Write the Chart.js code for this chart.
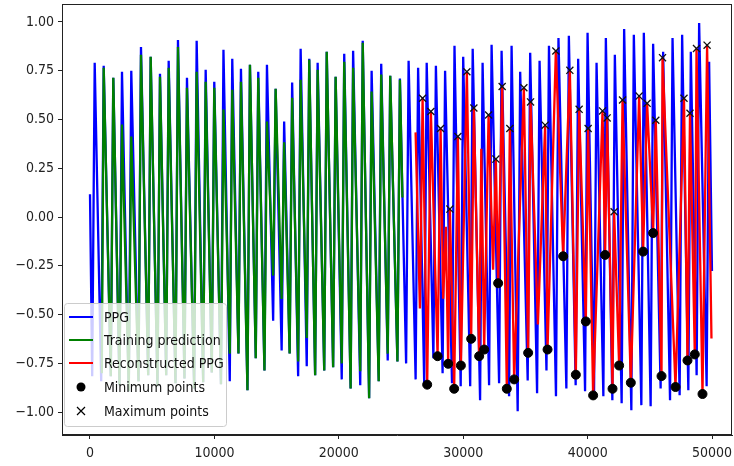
<!DOCTYPE html>
<html lang="en">
<head>
    <meta charset="UTF-8">
    <title>PPG reconstruction</title>
    <script src="https://cdn.jsdelivr.net/npm/chart.js"></script>
    <style>
        body { margin: 0; background: #fff; }
        .wrap { width: 734px; height: 466px; position: relative; }
    </style>
</head>
<body>
<div class="wrap"><canvas id="graphique"></canvas></div>
<script>
// PPG signal: alternating troughs / peaks
const ppgTime = [0, 177, 378, 900, 1101, 1672, 1872, 2371, 2571, 3118, 3318, 3898, 4098, 4677, 4877,
    5425, 5625, 6124, 6324, 6871, 7071, 7594, 7794, 8373, 8573, 9097, 9297, 9788, 9988,
    10527, 10727, 11234, 11434, 11933, 12133, 12656, 12856, 13323, 13523, 14022, 14222,
    14721, 14921, 15404, 15604, 16047, 16247, 16730, 16930, 17421, 17621, 18096, 18296,
    18827, 19027, 19542, 19742, 20233, 20433, 20948, 21148, 21720, 21920, 22435, 22635,
    23206, 23406, 23930, 24130, 24709, 24909, 25408, 25608, 26172, 26372, 26862, 27062,
    27601, 27801, 28340, 28540, 29096, 29296, 29795, 29995, 30558, 30758, 31354, 31554,
    32077, 32277, 32881, 33081, 33684, 33884, 34375, 34575, 35179, 35379, 35934, 36134,
    36689, 36889, 37453, 37653, 38288, 38488, 39035, 39235, 39791, 39991, 40514, 40714,
    41261, 41461, 41984, 42184, 42731, 42931, 43510, 43710, 44314, 44514, 45061, 45261,
    45865, 46065, 46620, 46820, 47392, 47592, 48091, 48291, 48758, 48958, 49561, 49761, 49990];
const ppgValue = [0.117, -0.816, 0.791, -0.842, 0.776, -0.816, 0.714, -0.862, 0.745, -0.893, 0.750, -0.842, 0.872, -0.811, 0.821,
    -0.867, 0.735, -0.811, 0.801, -0.852, 0.908, -0.827, 0.714, -0.878, 0.903, -0.847, 0.755, -0.796, 0.694,
    -0.857, 0.857, -0.842, 0.811, -0.699, 0.760, -0.888, 0.781, -0.724, 0.745, -0.786, 0.781,
    -0.531, 0.658, -0.684, 0.490, -0.699, 0.689, -0.816, 0.862, -0.765, 0.811, -0.811, 0.791,
    -0.786, 0.847, -0.770, 0.719, -0.832, 0.837, -0.878, 0.852, -0.862, 0.903, -0.929, 0.750,
    -0.842, 0.786, -0.735, 0.724, -0.740, 0.710, -0.750, 0.801, -0.832, 0.765, -0.852, 0.791,
    -0.724, 0.776, -0.801, 0.750, -0.852, 0.878, -0.867, 0.821, -0.867, 0.862, -0.939, 0.791,
    -0.862, 0.883, -0.852, 0.852, -0.918, 0.878, -0.995, 0.745, -0.837, 0.842, -0.903, 0.801,
    -0.786, 0.878, -0.918, 0.918, -0.878, 0.929, -0.862, 0.811, -0.893, 0.944, -0.893, 0.791,
    -0.918, 0.918, -0.939, 0.832, -0.954, 0.964, -0.990, 0.934, -0.964, 0.944, -0.969, 0.888,
    -0.878, 0.847, -0.939, 0.918, -0.913, 0.934, -0.888, 0.847, -0.811, 0.995, -0.867, 0.796, -0.276];

// Training prediction (first half)
const trainTime = [950, 1101, 1672, 1872, 2371, 2571, 3118, 3318, 3898, 4098, 4677, 4877,
    5425, 5625, 6124, 6324, 6871, 7071, 7594, 7794, 8373, 8573, 9097, 9297, 9788, 9988,
    10527, 10727, 11234, 11434, 11933, 12133, 12656, 12856, 13323, 13523, 14022, 14222,
    14721, 14921, 15404, 15604, 16047, 16247, 16730, 16930, 17421, 17621, 18096, 18296,
    18827, 19027, 19542, 19742, 20233, 20433, 20948, 21148, 21720, 21920, 22435, 22635,
    23206, 23406, 23930, 24130, 24709, 24909, 25110];
const trainValue = [-0.800, 0.765, -0.816, 0.714, -0.862, 0.474, -0.893, 0.413, -0.842, 0.832, -0.811, 0.821,
    -0.867, 0.719, -0.811, 0.765, -0.852, 0.872, -0.827, 0.663, -0.878, 0.745, -0.847, 0.694, -0.796, 0.663,
    -0.857, 0.551, -0.700, 0.653, -0.699, 0.694, -0.888, 0.781, -0.724, 0.714, -0.786, 0.490,
    -0.300, 0.658, -0.420, 0.383, -0.699, 0.612, -0.740, 0.704, -0.620, 0.806, -0.811, 0.755,
    -0.786, 0.847, -0.770, 0.719, -0.750, 0.796, -0.878, 0.765, -0.790, 0.893, -0.929, 0.643,
    -0.842, 0.730, -0.700, 0.724, -0.740, 0.704, 0.100];

// Reconstructed PPG (second half)
const reconTime = [26170, 26516, 26731, 27101, 27398, 27937, 28178, 28388, 28600, 28788, 28925, 29270,
    29568, 29809, 30291, 30637, 30853, 31279, 31450, 31681, 32035, 32400, 32621, 32806, 33127,
    33500, 33746, 34091, 34871, 35216, 35409, 36000, 36582, 36775, 37442, 38029, 38567, 39049,
    39314, 39852, 40037, 40439, 41194, 41403, 41564, 41997, 42126, 42528, 42801, 43468, 44135,
    44456, 44778, 45260, 45476, 45935, 46015, 47059, 47742, 48023, 48224, 48610, 48747, 49229,
    49598, 49950];
const reconValue = [0.434, -0.469, 0.609, -0.859, 0.541, -0.713, 0.454, -0.418, -0.050, -0.752, 0.041, -0.880,
    0.413, -0.761, 0.745, -0.624, 0.559, -0.713, 0.350, -0.679, 0.523, -0.270, 0.297, -0.339, 0.669,
    -0.880, 0.454, -0.832, 0.663, -0.696, 0.590, -0.550, 0.471, -0.679, 0.851, -0.201, 0.752, -0.808,
    0.552, -0.535, 0.454, -0.914, 0.544, -0.194, 0.508, -0.880, 0.027, -0.761, 0.600, -0.849, 0.620,
    -0.177, 0.583, -0.082, 0.496, -0.815, 0.817, -0.871, 0.609, -0.735, 0.532, -0.704, 0.864, -0.907,
    0.881, -0.622];

// Minimum / maximum points of the reconstruction
const minTime = [27101, 27937, 28788, 29270, 29809, 30637, 31279, 31681, 32806, 33500, 34091, 35216,
    36775, 38029, 39049, 39852, 40439, 41403, 41997, 42528, 43468, 44456, 45260, 45935, 47059,
    48023, 48610, 49229];
const minValue = [-0.859, -0.713, -0.752, -0.880, -0.761, -0.624, -0.713, -0.679, -0.339, -0.880, -0.832, -0.696,
    -0.679, -0.201, -0.808, -0.535, -0.914, -0.194, -0.880, -0.761, -0.849, -0.177, -0.082, -0.815, -0.871,
    -0.735, -0.704, -0.907];
const maxTime = [26731, 27398, 28178, 28925, 29568, 30291, 30853, 32035, 32621, 33127, 33746, 34871,
    35409, 36582, 37442, 38567, 39314, 40037, 41194, 41564, 42126, 42801, 44135, 44778, 45476,
    46015, 47742, 48224, 48747, 49598];
const maxValue = [0.609, 0.541, 0.454, 0.041, 0.413, 0.745, 0.559, 0.523, 0.297, 0.669, 0.454, 0.663,
    0.590, 0.471, 0.851, 0.752, 0.552, 0.454, 0.544, 0.508, 0.027, 0.600, 0.620, 0.583, 0.496,
    0.817, 0.609, 0.532, 0.864, 0.881];

const xTicks = [0, 10000, 20000, 30000, 40000, 50000];
const yTicks = [-1, -0.75, -0.5, -0.25, 0, 0.25, 0.5, 0.75, 1];

const police = '"DejaVu Sans Condensed", "Liberation Sans Narrow", "DejaVu Sans", sans-serif';

function paires(xs, ys) {
    return xs.map((x, i) => ({ x: x, y: ys[i] }));
}

// cadre complet + legende dans le graphe
const cadre = {
    id: 'cadre',
    afterDraw(chart) {
        const ctx = chart.ctx;
        const a = chart.chartArea;
        ctx.save();
        ctx.strokeStyle = '#222';
        ctx.lineWidth = 1;
        ctx.strokeRect(a.left + 0.5, a.top + 0.5, a.right - a.left - 1, a.bottom - a.top - 1);

        // legende
        const bx = 64, by = 303, bw = 162, bh = 123;
        ctx.beginPath();
        ctx.roundRect(bx + 0.5, by + 0.5, bw, bh, 3);
        ctx.fillStyle = 'rgba(255,255,255,0.8)';
        ctx.fill();
        ctx.strokeStyle = '#cccccc';
        ctx.stroke();

        const rows = [317, 340, 363, 387, 411];
        ctx.font = '14px ' + police;
        ctx.textBaseline = 'middle';
        chart.data.datasets.forEach((ds, i) => {
            const y = rows[i];
            ctx.strokeStyle = ds.borderColor;
            ctx.fillStyle = '#000';
            if (ds.kind === 'line') {
                ctx.lineWidth = 2;
                ctx.beginPath();
                ctx.moveTo(69, y);
                ctx.lineTo(93, y);
                ctx.stroke();
            } else if (ds.kind === 'dot') {
                ctx.beginPath();
                ctx.arc(81, y, 4.5, 0, Math.PI * 2);
                ctx.fill();
            } else {
                ctx.strokeStyle = '#000';
                ctx.lineWidth = 1.2;
                ctx.beginPath();
                ctx.moveTo(77, y - 4); ctx.lineTo(85, y + 4);
                ctx.moveTo(85, y - 4); ctx.lineTo(77, y + 4);
                ctx.stroke();
            }
            ctx.fillStyle = '#111';
            ctx.fillText(ds.label, 104, y + 1);
        });
        ctx.restore();
    }
};

const ctx = document.getElementById('graphique').getContext('2d');
new Chart(ctx, {
    type: 'line',
    data: {
        datasets: [
            { label: 'PPG', kind: 'line', data: paires(ppgTime, ppgValue), borderColor: '#0000ff',
              borderWidth: 2.3, pointRadius: 0, order: 5 },
            { label: 'Training prediction', kind: 'line', data: paires(trainTime, trainValue), borderColor: '#008000',
              borderWidth: 2.3, pointRadius: 0, order: 4 },
            { label: 'Reconstructed PPG', kind: 'line', data: paires(reconTime, reconValue), borderColor: '#ff0000',
              borderWidth: 2.3, pointRadius: 0, order: 3 },
            { label: 'Minimum points', kind: 'dot', data: paires(minTime, minValue), showLine: false,
              pointStyle: 'circle', pointRadius: 4.5, backgroundColor: '#000', borderColor: '#000', order: 2 },
            { label: 'Maximum points', kind: 'cross', data: paires(maxTime, maxValue), showLine: false,
              pointStyle: 'crossRot', pointRadius: 5, borderWidth: 1.3, borderColor: '#111', order: 1 }
        ]
    },
    options: {
        responsive: true,
        maintainAspectRatio: false,
        animation: false,
        layout: { autoPadding: false, padding: { top: 4, right: 2, left: 0, bottom: 0 } },
        plugins: { legend: { display: false }, tooltip: { enabled: false } },
        elements: { line: { tension: 0 } },
        scales: {
            x: {
                type: 'linear',
                min: -2250,
                max: 51600,
                afterBuildTicks: (s) => { s.ticks = xTicks.map(v => ({ value: v })); },
                afterFit: (s) => { s.height = 31; s.paddingLeft = 0; s.paddingRight = 0; },
                grid: { display: true, drawOnChartArea: false, drawTicks: true, tickLength: 4, color: '#222' },
                border: { display: true, color: '#222' },
                ticks: { color: '#222', padding: 6, maxRotation: 0, font: { family: police, size: 14 },
                         callback: (v) => String(v) }
            },
            y: {
                min: -1.117,
                max: 1.092,
                afterBuildTicks: (s) => { s.ticks = yTicks.map(v => ({ value: v })); },
                afterFit: (s) => { s.width = 62; s.paddingTop = 0; s.paddingBottom = 0; },
                grid: { display: true, drawOnChartArea: false, drawTicks: true, tickLength: 4, color: '#222' },
                border: { display: true, color: '#222' },
                ticks: { color: '#222', padding: 4, font: { family: police, size: 14 },
                         callback: (v) => (v < 0 ? '\u2212' : '') + Math.abs(v).toFixed(2) }
            }
        }
    },
    plugins: [cadre]
});
</script>
</body>
</html>
